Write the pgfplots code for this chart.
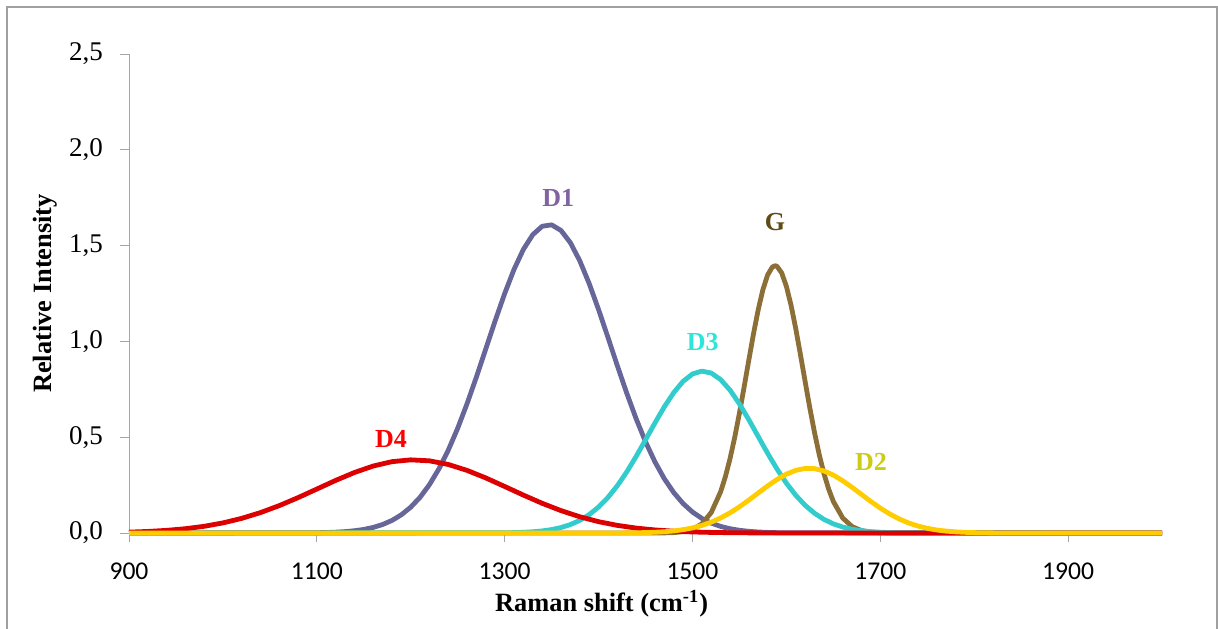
\documentclass[border=0pt]{standalone}
\usepackage{fontspec}
\setmainfont{Liberation Serif}
\newfontfamily\carlito{Carlito}
\usepackage{pgfplots}
\pgfplotsset{compat=1.18}
\definecolor{cD4}{RGB}{221,0,0}
\definecolor{cD1}{RGB}{102,102,153}
\definecolor{cD3}{RGB}{51,204,204}
\definecolor{cG}{RGB}{140,110,55}
\definecolor{cD2}{RGB}{255,204,0}
\definecolor{lD4}{RGB}{255,0,0}
\definecolor{lD1}{RGB}{128,100,162}
\definecolor{lD3}{RGB}{45,230,218}
\definecolor{lG}{RGB}{95,75,20}
\definecolor{lD2}{RGB}{204,204,20}
\definecolor{framegray}{RGB}{160,160,160}
\definecolor{axisgray}{RGB}{166,166,166}
\begin{document}
\begin{tikzpicture}
\useasboundingbox (-64.5pt,-47.5pt) rectangle (544.5pt,266.5pt);
\draw[framegray, line width=0.75pt] (-61pt,-60pt) -- (-61pt,263pt) -- (544pt,263pt) -- (544pt,-60pt);
\begin{axis}[
  scale only axis, width=516.5pt, height=239.5pt,
  xmin=900, xmax=2000, ymin=0, ymax=2.5,
  clip=false,
  axis lines*=left,
  axis line style={-, axisgray, line width=0.5pt},
  xtick={900,1100,1300,1500,1700,1900},
  ytick={0,0.5,1,1.5,2,2.5},
  tick align=outside, major tick length=4.5pt,
  tick style={axisgray, line width=0.5pt},
  /pgf/number format/assume math mode=true,
  yticklabel style={/pgf/number format/.cd, fixed, fixed zerofill, precision=1, use comma, /tikz/.cd, font=\fontsize{13.5}{16}\selectfont, xshift=-5pt},
  xticklabel style={/pgf/number format/.cd, fixed, 1000 sep={}, /tikz/.cd, font=\fontsize{12.8}{15}\carlito, yshift=-7pt},
  xlabel={\textbf{Raman shift (cm\textsuperscript{-1})}},
  ylabel={\textbf{Relative Intensity}},
  xlabel style={at={(axis description cs:0.4575,-0.148)}, anchor=center, font=\fontsize{13.2}{16}\selectfont},
  ylabel style={at={(axis description cs:-0.0813,0.5)}, anchor=center, font=\fontsize{13.2}{16}\selectfont},
  every axis plot/.append style={line width=2.4pt, line join=round, no markers},
]
% D1
\addplot[cD1] coordinates {(900,0)(1100,0.0015)(1110,0.0026)(1120,0.0043)(1130,0.0072)(1140,0.0118)(1150,0.0187)(1160,0.0291)(1170,0.0442)(1180,0.0656)(1190,0.0951)(1200,0.1348)(1210,0.1868)(1220,0.2529)(1230,0.3346)(1240,0.4326)(1250,0.5468)(1260,0.6754)(1270,0.8151)(1280,0.9618)(1290,1.1088)(1300,1.2494)(1310,1.3759)(1320,1.4807)(1330,1.5573)(1340,1.6010)(1350,1.6083)(1360,1.5791)(1370,1.5152)(1380,1.4208)(1390,1.3022)(1400,1.1663)(1410,1.0209)(1420,0.8733)(1430,0.7301)(1440,0.5967)(1450,0.4764)(1460,0.3717)(1470,0.2835)(1480,0.2114)(1490,0.1539)(1500,0.1096)(1510,0.0763)(1520,0.0518)(1530,0.0344)(1540,0.0224)(1550,0.0142)(1560,0.0088)(1570,0.0053)(1580,0.0032)(1590,0.0018)(1600,0.0010)(2000,0)};
% G
\addplot[cG] coordinates {(900,0)(1470,0.0006)(1480,0.0021)(1490,0.0067)(1500,0.0189)(1510,0.0475)(1520,0.1069)(1530,0.2152)(1535,0.2930)(1540,0.3878)(1545,0.4994)(1550,0.6254)(1555,0.7618)(1560,0.9024)(1565,1.0398)(1570,1.1652)(1575,1.2700)(1580,1.3463)(1585,1.3880)(1588,1.3950)(1590,1.3919)(1595,1.3575)(1600,1.2877)(1605,1.1881)(1610,1.0661)(1615,0.9305)(1620,0.7897)(1625,0.6520)(1630,0.5236)(1635,0.4089)(1640,0.3105)(1645,0.2295)(1650,0.1648)(1660,0.0783)(1670,0.0333)(1680,0.0127)(1690,0.0043)(1700,0.0013)(1710,0.0003)(2000,0)};
% D3
\addplot[cD3] coordinates {(900,0)(1300,0.0011)(1310,0.0021)(1320,0.0037)(1330,0.0065)(1340,0.0109)(1350,0.0179)(1360,0.0285)(1370,0.0440)(1380,0.0659)(1390,0.0959)(1400,0.1354)(1410,0.1856)(1420,0.2468)(1430,0.3187)(1440,0.3994)(1450,0.4860)(1460,0.5741)(1470,0.6583)(1480,0.7325)(1490,0.7914)(1500,0.8300)(1510,0.8450)(1520,0.8349)(1530,0.8008)(1540,0.7457)(1550,0.6741)(1560,0.5914)(1570,0.5037)(1580,0.4164)(1590,0.3342)(1600,0.2603)(1610,0.1969)(1620,0.1445)(1630,0.1030)(1640,0.0712)(1650,0.0478)(1660,0.0312)(1670,0.0197)(1680,0.0121)(1690,0.0072)(1700,0.0042)(1710,0.0023)(1720,0.0013)(2000,0)};
% D4
\addplot[cD4] coordinates {(900,0.0046)(920,0.0081)(940,0.0138)(960,0.0224)(980,0.0350)(1000,0.0527)(1020,0.0764)(1040,0.1065)(1060,0.1429)(1080,0.1846)(1100,0.2294)(1120,0.2744)(1140,0.3157)(1160,0.3495)(1180,0.3724)(1200,0.3818)(1220,0.3767)(1240,0.3577)(1260,0.3268)(1280,0.2873)(1300,0.2430)(1320,0.1978)(1340,0.1550)(1360,0.1169)(1380,0.0848)(1400,0.0592)(1420,0.0398)(1440,0.0257)(1460,0.0160)(1480,0.0096)(1500,0.0055)(1520,0.0031)(1540,0.0016)(1560,0.0008)(1580,0.0004)(1600,0.0002)(2000,0)};
% D2
\addplot[cD2] coordinates {(900,0)(1420,0.0003)(1430,0.0007)(1440,0.0013)(1450,0.0023)(1460,0.0040)(1470,0.0067)(1480,0.0110)(1490,0.0174)(1500,0.0266)(1510,0.0394)(1520,0.0566)(1530,0.0785)(1540,0.1053)(1550,0.1367)(1560,0.1717)(1570,0.2087)(1580,0.2454)(1590,0.2792)(1600,0.3073)(1610,0.3272)(1620,0.3371)(1630,0.3360)(1640,0.3240)(1650,0.3023)(1660,0.2728)(1670,0.2382)(1680,0.2013)(1690,0.1645)(1700,0.1301)(1710,0.0995)(1720,0.0737)(1730,0.0528)(1740,0.0366)(1750,0.0245)(1760,0.0159)(1770,0.0100)(1780,0.0061)(1790,0.0036)(1800,0.0020)(1810,0.0011)(1820,0.0006)(1830,0.0003)(2000,0)};
\node[text=lD1, font=\bfseries\fontsize{13}{15}\selectfont] at (axis cs:1357,1.748) {D1};
\node[text=lG, font=\bfseries\fontsize{13}{15}\selectfont] at (axis cs:1588,1.623) {G};
\node[text=lD3, font=\bfseries\fontsize{13}{15}\selectfont] at (axis cs:1511,0.997) {D3};
\node[text=lD4, font=\bfseries\fontsize{13}{15}\selectfont] at (axis cs:1179,0.493) {D4};
\node[text=lD2, font=\bfseries\fontsize{13}{15}\selectfont] at (axis cs:1690,0.371) {D2};
\end{axis}
\end{tikzpicture}
\end{document}
